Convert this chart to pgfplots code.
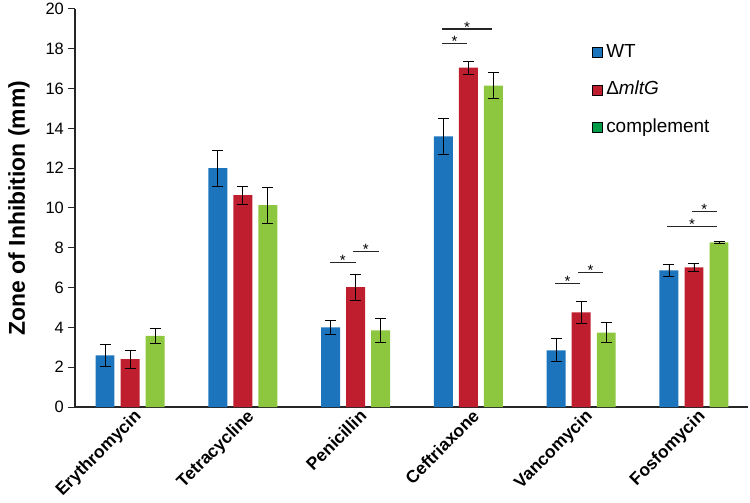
\documentclass[border=0pt]{standalone}
\usepackage{pgfplots}
\pgfplotsset{compat=1.18}
\usepackage{fontspec}
\setmainfont{Liberation Sans}
\definecolor{wtblue}{RGB}{28,117,188}
\definecolor{mred}{RGB}{190,30,45}
\definecolor{cgreen}{RGB}{141,198,63}
\definecolor{leggreen}{RGB}{0,155,72}
\begin{document}
\begin{tikzpicture}
\begin{axis}[
  scale only axis, width=673bp, height=398bp,
  xmin=-0.488, xmax=5.479, ymin=0, ymax=20,
  axis lines=left,
  axis line style={-},
  x axis line style={line width=2bp, black!85},
  y axis line style={line width=1.3bp, black!85},
  ytick={0,2,...,20},
  xtick={0,...,5},
  xticklabels={Erythromycin,Tetracycline,Penicillin,Ceftriaxone,Vancomycin,Fosfomycin},
  xtick style={draw=none},
  ytick style={line width=1bp, black!85},
  tick align=outside, major tick length=7bp,
  /pgf/number format/assume math mode=true,
  yticklabel style={font=\fontsize{16.5}{16.5}\selectfont, inner sep=0pt, xshift=-4bp},
  xticklabel style={font=\fontsize{17.5}{17.5}\selectfont\bfseries, inner sep=0pt, xshift=3bp, yshift=6bp, rotate=45, anchor=north east},
  ylabel={Zone of Inhibition (mm)},
  ylabel style={font=\fontsize{23}{23}\selectfont\bfseries, at={(axis description cs:-0.0743,0.5)}, anchor=base, inner sep=0pt},
  legend image code/.code={\fill[#1] (0bp,-5bp) rectangle (10bp,5bp);},
  legend cell align=left,
  legend style={at={(axis description cs:0.768,0.914)}, anchor=north west, draw=none, fill=none, inner sep=0pt, outer sep=0pt, row sep=19.6bp, column sep=4bp, font=\fontsize{19}{19}\selectfont, nodes={inner sep=0pt, text height=14bp, text depth=4bp}},
  error bars/error bar style={line width=0.8bp, black},
  error bars/error mark options={rotate=90, line width=0.8bp, mark size=5.5bp, black},
]
\addplot[ybar, bar width=0.168, bar shift=0, fill=wtblue, draw=none, forget plot,
  error bars/.cd, y dir=both, y explicit] table[x=x, y=y, y error=e] {
x y e
-0.222 2.6 0.55
0.778 12.0 0.9
1.778 4.0 0.37
2.778 13.6 0.9
3.778 2.85 0.58
4.778 6.87 0.32
};
\addplot[ybar, bar width=0.168, bar shift=0, fill=mred, draw=none, forget plot,
  error bars/.cd, y dir=both, y explicit] table[x=x, y=y, y error=e] {
x y e
0 2.4 0.45
1 10.65 0.45
2 6.03 0.65
3 17.05 0.33
4 4.75 0.55
5 7.02 0.22
};
\addplot[ybar, bar width=0.168, bar shift=0, fill=cgreen, draw=none, forget plot,
  error bars/.cd, y dir=both, y explicit] table[x=x, y=y, y error=e] {
x y e
0.222 3.57 0.37
1.222 10.15 0.9
2.222 3.85 0.62
3.222 16.15 0.65
4.222 3.74 0.5
5.222 8.27 0.07
};
% significance lines
\addplot[sharp plot, black!85, line width=1.4bp, forget plot] coordinates {(1.773,7.26) (2.001,7.26)};
\addplot[sharp plot, black!85, line width=1.4bp, forget plot] coordinates {(1.977,7.82) (2.205,7.82)};
\addplot[sharp plot, black!85, line width=1.4bp, forget plot] coordinates {(2.766,18.26) (2.986,18.26)};
\addplot[sharp plot, black!85, line width=1.4bp, forget plot] coordinates {(2.766,18.99) (3.209,18.99)};
\addplot[sharp plot, black!85, line width=1.4bp, forget plot] coordinates {(3.768,6.21) (3.989,6.21)};
\addplot[sharp plot, black!85, line width=1.4bp, forget plot] coordinates {(3.972,6.77) (4.194,6.77)};
\addplot[sharp plot, black!85, line width=1.4bp, forget plot] coordinates {(4.761,9.06) (5.202,9.06)};
\addplot[sharp plot, black!85, line width=1.4bp, forget plot] coordinates {(4.980,9.83) (5.202,9.83)};
\begin{scope}[every node/.style={anchor=base, inner sep=0pt, yshift=-3bp, font=\fontsize{15}{15}\selectfont}]
\node at (axis cs:1.887,7.26) {*};
\node at (axis cs:2.091,7.82) {*};
\node at (axis cs:2.876,18.26) {*};
\node at (axis cs:2.988,18.99) {*};
\node at (axis cs:3.879,6.21) {*};
\node at (axis cs:4.083,6.77) {*};
\node at (axis cs:4.982,9.06) {*};
\node at (axis cs:5.091,9.83) {*};
\end{scope}
\addlegendimage{fill=wtblue}
\addlegendentry{WT}
\addlegendimage{fill=mred}
\addlegendentry{Δ\textit{mltG}}
\addlegendimage{fill=leggreen}
\addlegendentry{complement}
\end{axis}
\pgfresetboundingbox
\useasboundingbox (-75bp,-96bp) rectangle (675bp,407bp);
\end{tikzpicture}
\end{document}
